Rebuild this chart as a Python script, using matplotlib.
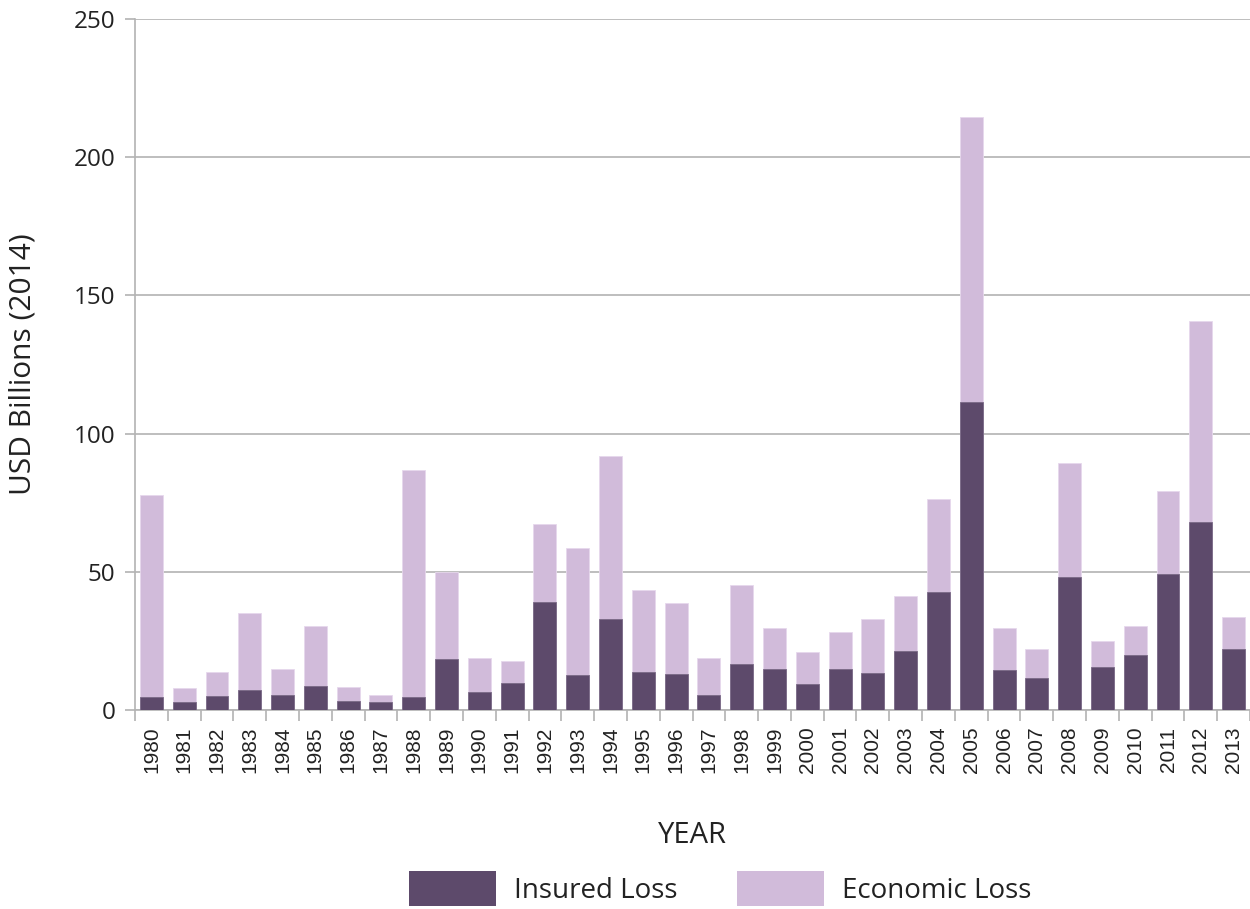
import matplotlib
matplotlib.use("Agg")
import matplotlib.pyplot as plt
from matplotlib.patches import Patch
import numpy as np

years = [str(y) for y in range(1980, 2014)]
insured_loss = [4.7, 2.8, 5.1, 7.1, 5.3, 8.6, 3.1, 2.8, 4.7, 18.6,
                6.5, 9.8, 39.1, 12.5, 32.9, 13.7, 13.0, 5.3, 16.8, 14.8,
                9.4, 14.9, 13.5, 21.3, 42.5, 111.3, 14.4, 11.5, 48.2, 15.6,
                20.0, 49.1, 68.1, 22.1]
economic_loss = [77.9, 8.1, 13.6, 35.1, 14.9, 30.3, 8.2, 5.5, 86.7, 49.8,
                 18.8, 17.6, 67.3, 58.5, 92.0, 43.4, 38.6, 18.7, 45.2, 29.7,
                 21.0, 28.2, 32.9, 41.2, 76.5, 214.5, 29.6, 22.0, 89.4, 25.0,
                 30.3, 79.4, 140.6, 33.6]
y_ticks = [0, 50, 100, 150, 200, 250]

plt.rcParams['font.family'] = ['Open Sans', 'DejaVu Sans']

DARK = '#5d4a6b'
LIGHT = '#d1bbda'
GRID = '#b3b3b3'
TEXT = '#222222'

fig = plt.figure(figsize=(12.5, 9.09), dpi=100)
ax = fig.add_axes([0.108, 0.219, 0.892, 0.760])

x = np.arange(len(years))
ax.bar(x, economic_loss, width=0.7, color=LIGHT, edgecolor='#e6d8ec', linewidth=0.6, zorder=2)
ax.bar(x, insured_loss, width=0.7, color=DARK, edgecolor='#7a6a86', linewidth=0.6, zorder=3)

ax.set_xlim(-0.5, len(years) - 0.5)
ax.set_ylim(0, 250)
ax.set_yticks(y_ticks)
ax.set_yticklabels([str(v) for v in y_ticks], fontsize=17.5, color=TEXT)
ax.yaxis.grid(True, color=GRID, linewidth=1.2, zorder=0)
ax.set_axisbelow(True)

ax.set_xticks(x)
ax.set_xticklabels(years, rotation=90, fontsize=15, color=TEXT, family=['Liberation Sans', 'DejaVu Sans'])
ax.set_xticks(np.arange(len(years) + 1) - 0.5, minor=True)
ax.tick_params(axis='x', which='major', length=0, pad=12)
ax.tick_params(axis='x', which='minor', length=8, color=GRID, width=1.2)
ax.tick_params(axis='y', length=7, color=GRID, width=1.2, pad=7)

for s in ['top', 'right']:
    ax.spines[s].set_visible(False)
for s in ['left', 'bottom']:
    ax.spines[s].set_color(GRID)
    ax.spines[s].set_linewidth(1.2)

ax.set_ylabel('USD Billions (2014)', fontsize=21.5, color=TEXT, labelpad=26)
ax.set_xlabel('YEAR', fontsize=21, color=TEXT, labelpad=34)

handles = [Patch(facecolor=DARK, edgecolor='none', label='Insured Loss'),
           Patch(facecolor=LIGHT, edgecolor='none', label='Economic Loss')]
fig.legend(handles=handles, loc='lower center', bbox_to_anchor=(0.576, -0.012),
           ncol=2, frameon=False, fontsize=20, handlelength=3.13, handleheight=1.55,
           handletextpad=0.65, columnspacing=2.16, borderpad=0.0, labelcolor=TEXT)

fig.savefig('out.png', dpi=100)
